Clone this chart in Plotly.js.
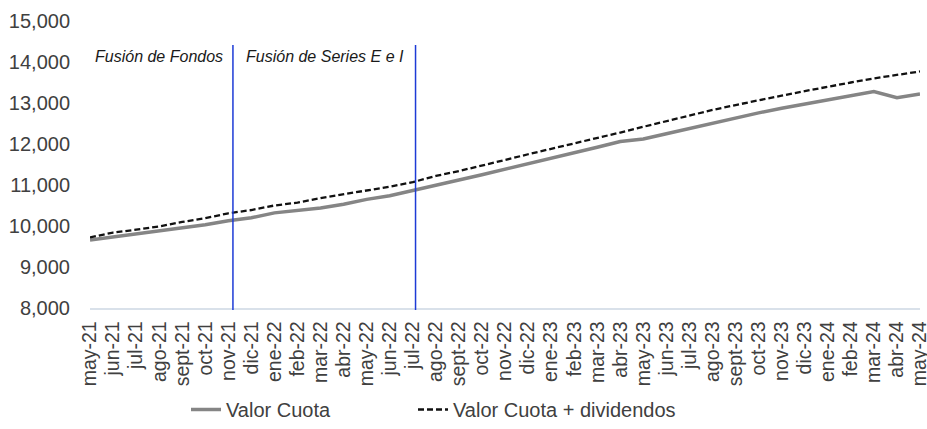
<!DOCTYPE html>
<html>
<head>
<meta charset="utf-8">
<script src="https://cdn.plot.ly/plotly-3.0.1.min.js"></script>
<style>html,body{margin:0;padding:0;background:#fff;}#chart{width:927px;height:429px;}</style>
</head>
<body>
<div id="chart"></div>
<script>
const categories = ["may-21","jun-21","jul-21","ago-21","sept-21","oct-21","nov-21","dic-21",
  "ene-22","feb-22","mar-22","abr-22","may-22","jun-22","jul-22","ago-22","sept-22","oct-22","nov-22","dic-22",
  "ene-23","feb-23","mar-23","abr-23","may-23","jun-23","jul-23","ago-23","sept-23","oct-23","nov-23","dic-23",
  "ene-24","feb-24","mar-24","abr-24","may-24"];
const valorCuota = [9660,9730,9800,9880,9940,10030,10130,10200,
  10320,10370,10440,10530,10650,10740,10860,11000,11120,11250,11380,11510,
  11640,11780,11920,12060,12120,12250,12380,12510,12640,12760,12870,12975,
  13080,13185,13280,13130,13220];
const valorCuotaDiv = [9720,9840,9910,9990,10100,10190,10310,10390,
  10500,10570,10680,10770,10860,10960,11070,11220,11340,11470,11610,11750,
  11880,12010,12140,12280,12420,12560,12700,12830,12950,13070,13180,13290,
  13400,13500,13600,13680,13770];
const eventLabels = ["Fusión de Fondos","Fusión de Series E e I"];
const eventPositions = [6.2, 14.12];
const yTicks = [8000,9000,10000,11000,12000,13000,14000,15000];

const fam = "Liberation Sans, Arial, sans-serif";
const txt = "#404040";

const traces = [
  {x:categories, y:valorCuota, type:"scatter", mode:"lines", name:"Valor Cuota", legend:"legend",
   line:{color:"#858585", width:3.5}},
  {x:categories, y:valorCuotaDiv, type:"scatter", mode:"lines", name:"Valor Cuota + dividendos", legend:"legend2",
   line:{color:"#111111", width:2.3, dash:"6px,3px"}}
];

const legendBase = {orientation:"h", xref:"container", yref:"container", xanchor:"left",
  y:0.0, yanchor:"bottom", bgcolor:"rgba(0,0,0,0)", font:{family:fam, size:20, color:txt}};

const layout = {
  width:927, height:429,
  margin:{l:90, r:7, t:21, b:121},
  paper_bgcolor:"#fff", plot_bgcolor:"#fff",
  font:{family:fam, size:20, color:txt},
  showlegend:true,
  legend:Object.assign({}, legendBase, {x:186/927}),
  legend2:Object.assign({}, legendBase, {x:413/927}),
  xaxis:{type:"category", range:[0,36], tickangle:-90, showgrid:false, zeroline:false,
    tickmode:"array", tickvals:categories, ticktext:categories,
    showline:true, linecolor:"#d9e1ea", linewidth:1.5,
    ticks:"outside", ticklen:4, tickcolor:"rgba(0,0,0,0)",
    tickfont:{family:fam, size:19.5, color:txt}, automargin:false},
  yaxis:{range:[8000,15000], tickvals:yTicks, ticktext:yTicks.map(v=>v.toLocaleString("en-US")),
    showgrid:false, zeroline:false, showline:false,
    ticks:"outside", ticklen:15, tickcolor:"rgba(0,0,0,0)",
    tickfont:{family:fam, size:20, color:txt}, automargin:false},
  shapes: eventPositions.map(p => ({type:"line", xref:"x", yref:"paper", x0:p, x1:p, y0:-0.007, y1:0.916,
    line:{color:"#1d3bd6", width:1.5}})),
  annotations: eventLabels.map((t,i) => ({text:"<i>"+t+"</i>", xref:"paper", yref:"paper",
    x:[0.004,0.186][i], y:0.875, xanchor:"left", yanchor:"middle", showarrow:false,
    font:{family:fam, size:16, color:"#1a1a1a"}}))
};

Plotly.newPlot("chart", traces, layout, {displayModeBar:false, staticPlot:true});
</script>
</body>
</html>
